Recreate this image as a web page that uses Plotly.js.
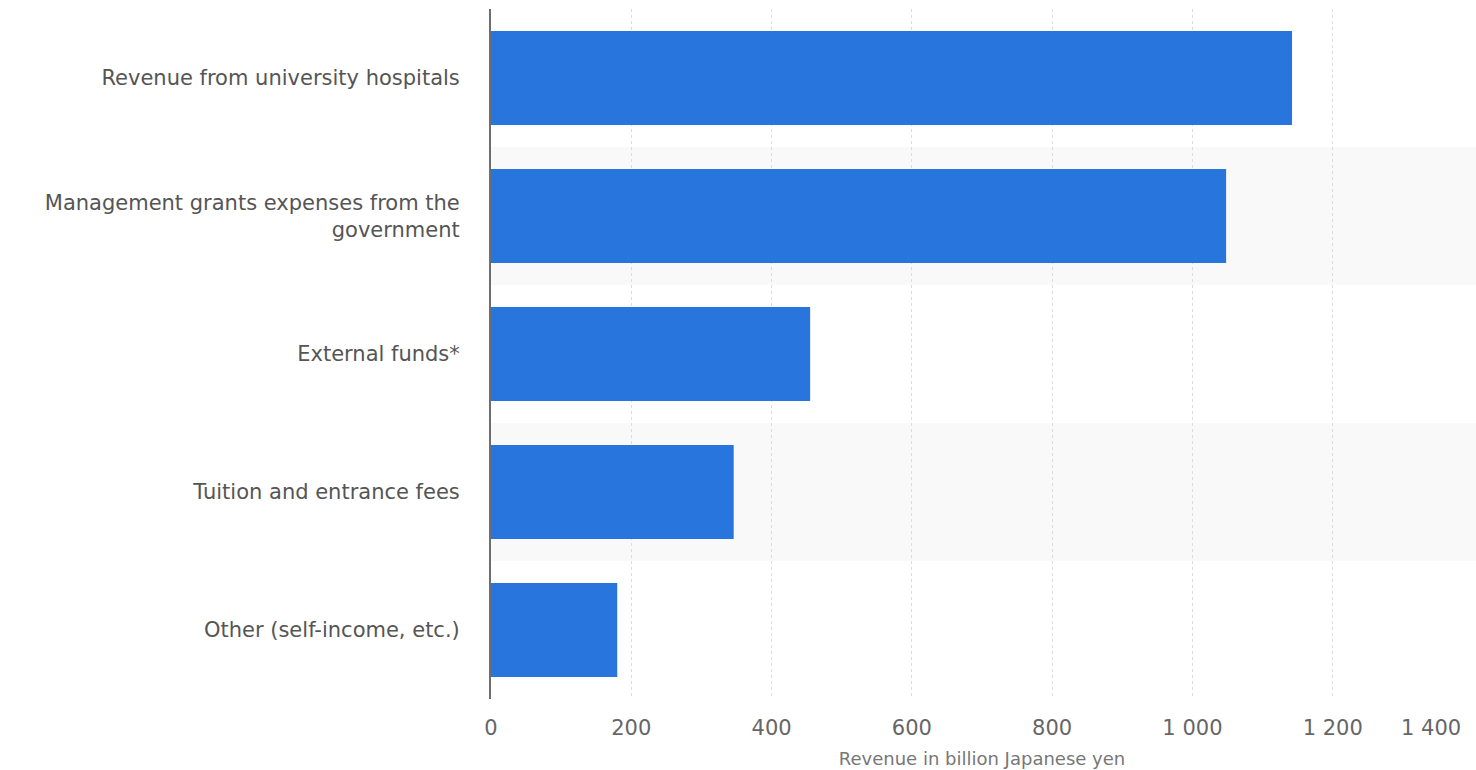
<!DOCTYPE html>
<html>
<head>
<meta charset="utf-8">
<script src="https://cdn.plot.ly/plotly-3.0.1.min.js"></script>
<style>html,body{margin:0;padding:0;background:#fff;}#chart{width:1476px;height:770px;}</style>
</head>
<body>
<div id="chart"></div>
<script>
const categories = [
  "Revenue from university hospitals",
  "Management grants expenses from the<br>government",
  "External funds*",
  "Tuition and entrance fees",
  "Other (self-income, etc.)"
];
const values = [1142, 1048, 455, 346, 180];
const tickValues = [0, 200, 400, 600, 800, 1000, 1200];
const tickLabels = ["0", "200", "400", "600", "800", "1 000", "1 200"];
const lastTickValue = 1400;
const lastTickLabel = "1 400";
const axisTitle = "Revenue in billion Japanese yen";

const shapes = [];
categories.forEach((c, i) => {
  if (i % 2 === 1) {
    shapes.push({type: 'rect', layer: 'below', xref: 'paper', yref: 'y',
      x0: 0, x1: 1.01, y0: i - 0.5, y1: i + 0.5,
      fillcolor: '#f9f9f9', line: {width: 0}});
  }
});

const trace = {
  type: 'bar', orientation: 'h',
  y: categories, x: values,
  marker: {color: '#2876dd'},
  hoverinfo: 'x+y'
};

const tickFont = {size: 21, color: '#666', family: 'DejaVu Sans, sans-serif'};

const layout = {
  width: 1476, height: 770,
  margin: {l: 491, r: 3, t: 9, b: 71},
  paper_bgcolor: '#fff', plot_bgcolor: 'rgba(0,0,0,0)',
  bargap: 0.32,
  showlegend: false,
  shapes: shapes,
  font: {family: 'DejaVu Sans, sans-serif', color: '#555'},
  xaxis: {
    range: [0, 1400],
    tickvals: tickValues.concat([lastTickValue]),
    ticktext: tickLabels.concat([""]),
    showgrid: true, gridcolor: '#dcdcdc', griddash: 'dot', gridwidth: 1,
    zeroline: false, showline: false,
    ticks: '', ticklabelstandoff: 14,
    tickfont: tickFont,
    title: {text: axisTitle, font: {size: 18, color: '#777', family: 'DejaVu Sans, sans-serif'}, standoff: 13},
    automargin: false,
    fixedrange: true
  },
  yaxis: {
    autorange: 'reversed',
    showgrid: false, zeroline: false,
    showline: true, linecolor: '#6e6e6e', linewidth: 2,
    ticks: '', ticklabelstandoff: 25,
    tickfont: {size: 21, color: '#555', family: 'DejaVu Sans, sans-serif'},
    automargin: false,
    fixedrange: true
  },
  annotations: [{
    xref: 'x', yref: 'paper', x: lastTickValue, y: 0,
    xanchor: 'right', yanchor: 'top', xshift: -10, yshift: -15,
    text: lastTickLabel, showarrow: false,
    font: tickFont
  }]
};

Plotly.newPlot('chart', [trace], layout, {displayModeBar: false});
</script>
</body>
</html>
